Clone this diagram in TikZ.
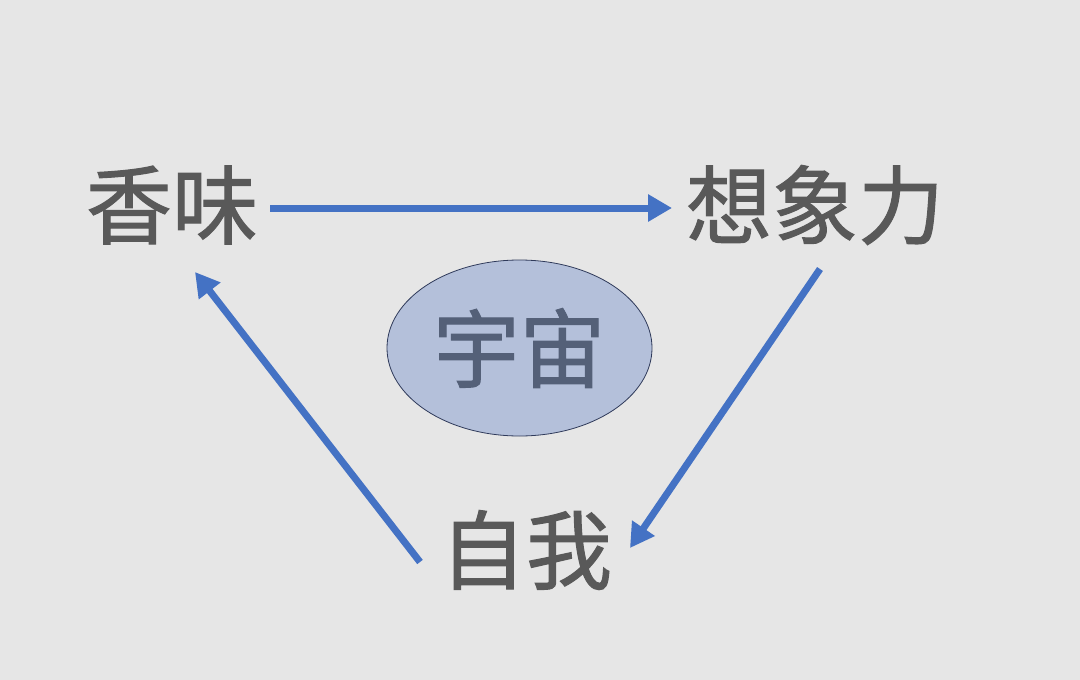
\documentclass[tikz,border=0pt]{standalone}
\usepackage{fontspec}
\newfontfamily\cjk[FakeBold=1.2]{Noto Sans CJK SC}
\usetikzlibrary{shapes.geometric,arrows.meta}
\definecolor{bg}{HTML}{E6E6E6}
\definecolor{txt}{HTML}{595959}
\definecolor{arr}{HTML}{4472C4}
\definecolor{ellfill}{HTML}{B4C0DA}
\definecolor{elldraw}{HTML}{2F3A5A}
\definecolor{elltxt}{HTML}{546078}
\tikzset{
  word/.style={text=txt, font=\cjk\fontsize{86}{86}\selectfont, inner sep=0pt},
  flow/.style={draw=arr, line width=7pt, -{Triangle[length=24pt,width=26pt]}},
  core/.style={ellipse, draw=elldraw, line width=0.8pt, fill=ellfill, minimum width=265pt, minimum height=176pt, inner sep=0pt, text=elltxt, font=\cjk\fontsize{86}{86}\selectfont}
}
\begin{document}
\begin{tikzpicture}[x=1pt,y=-1pt]
\fill[bg] (0,0) rectangle (1080,680);
\useasboundingbox (0,0) rectangle (1080,680);
\node[word] (xw) at (172,205) {香味};
\node[word] (xx) at (815,205) {想象力};
\node[word] (zw) at (526,550) {自我};
\node[core] (yz) at (519.5,348) {宇宙};
\coordinate (a1s) at (270,208);
\coordinate (a1e) at (672,208);
\coordinate (a2s) at (820,269);
\coordinate (a2e) at (630,548);
\coordinate (a3s) at (420,562);
\coordinate (a3e) at (195,272);
\draw[flow] (a1s) -- (a1e);
\draw[flow] (a2s) -- (a2e);
\draw[flow] (a3s) -- (a3e);
\end{tikzpicture}
\end{document}
